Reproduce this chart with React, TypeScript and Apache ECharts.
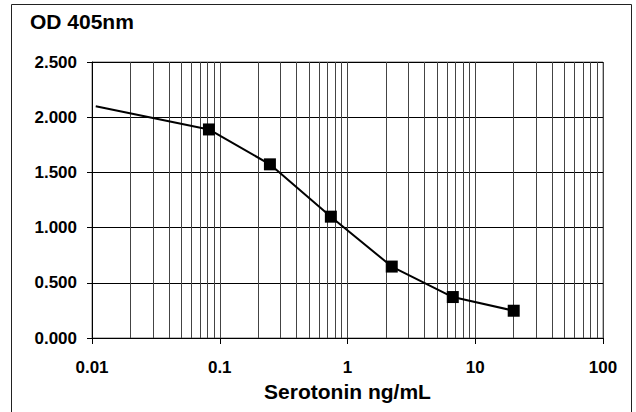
import React, { useEffect, useRef } from "react";
import * as echarts from "echarts";

const concentrations = [0.0107, 0.0823, 0.247, 0.741, 2.22, 6.67, 20];
const odValues = [2.1, 1.889, 1.573, 1.099, 0.647, 0.371, 0.247];
const markerShown = [false, true, true, true, true, true, true];
const yTicks = [0, 0.5, 1, 1.5, 2, 2.5];
const xDecades = [0.01, 0.1, 1, 10];
const minorSteps = [2, 3, 4, 5, 6, 7, 8, 9];

const FONT = "'Liberation Sans', Arial, Helvetica, sans-serif";

export default function App() {
  const ref = useRef<HTMLDivElement>(null);
  useEffect(() => {
    if (!ref.current) return;
    const chart = echarts.init(ref.current, undefined, { renderer: "svg" });
    const minorLines: number[] = [];
    xDecades.forEach((d) => minorSteps.forEach((s) => minorLines.push(+(d * s).toPrecision(3))));
    const data = concentrations.map((c, i) => ({
      value: [c, odValues[i]],
      symbol: markerShown[i] ? "rect" : "none",
    }));
    chart.setOption({
      animation: false,
      backgroundColor: "#fff",
      title: {
        text: "OD 405nm",
        left: 30,
        top: 11,
        padding: 0,
        textStyle: { fontFamily: FONT, fontSize: 21, fontWeight: "bold", color: "#000" },
      },
      grid: {
        left: 92,
        right: 33,
        top: 62,
        bottom: 74,
        show: true,
        borderColor: "#777",
        borderWidth: 1,
      },
      xAxis: {
        type: "log",
        logBase: 10,
        min: 0.01,
        max: 100,
        name: "Serotonin ng/mL",
        nameLocation: "middle",
        nameGap: 33,
        nameTextStyle: { fontFamily: FONT, fontSize: 21, fontWeight: "bold", color: "#000", verticalAlign: "top" },
        axisLine: { show: true, onZero: false, lineStyle: { color: "#000", width: 1 } },
        axisTick: { show: true, inside: false, length: 6, lineStyle: { color: "#000" } },
        axisLabel: {
          fontFamily: FONT,
          fontSize: 17,
          fontWeight: "bold",
          color: "#000",
          margin: 21,
          formatter: (v: number) => String(+v.toPrecision(3)),
        },
        splitLine: { show: true, lineStyle: { color: "#444", width: 1 } },
      },
      yAxis: {
        type: "value",
        min: 0,
        max: 2.5,
        interval: 0.5,
        axisLine: { show: true, lineStyle: { color: "#000", width: 1 } },
        axisTick: { show: true, inside: false, length: 5, lineStyle: { color: "#000" } },
        axisLabel: {
          fontFamily: FONT,
          fontSize: 17,
          fontWeight: "bold",
          color: "#000",
          margin: 15,
          formatter: (v: number) => v.toFixed(3),
        },
        splitLine: { show: true, lineStyle: { color: "#000", width: 1 } },
        data: yTicks,
      },
      graphic: [
        {
          type: "rect",
          shape: { x: 11.5, y: 4.5, width: 620, height: 430 },
          style: { fill: "none", stroke: "#222", lineWidth: 1 },
          silent: true,
          z: 100,
        },
      ],
      series: [
        {
          type: "line",
          data,
          symbol: "rect",
          symbolSize: 12,
          showAllSymbol: true,
          lineStyle: { color: "#000", width: 2 },
          itemStyle: { color: "#000" },
          z: 5,
          markLine: {
            silent: true,
            symbol: "none",
            label: { show: false },
            lineStyle: { color: "#444", width: 1, type: "solid" },
            data: minorLines.map((x) => ({ xAxis: x })),
            z: 1,
          },
        },
      ],
    });
    return () => chart.dispose();
  }, []);
  return (
    <div
      ref={ref}
      style={{ position: "absolute", left: 0, top: 0, width: 636, height: 412 }}
    />
  );
}
